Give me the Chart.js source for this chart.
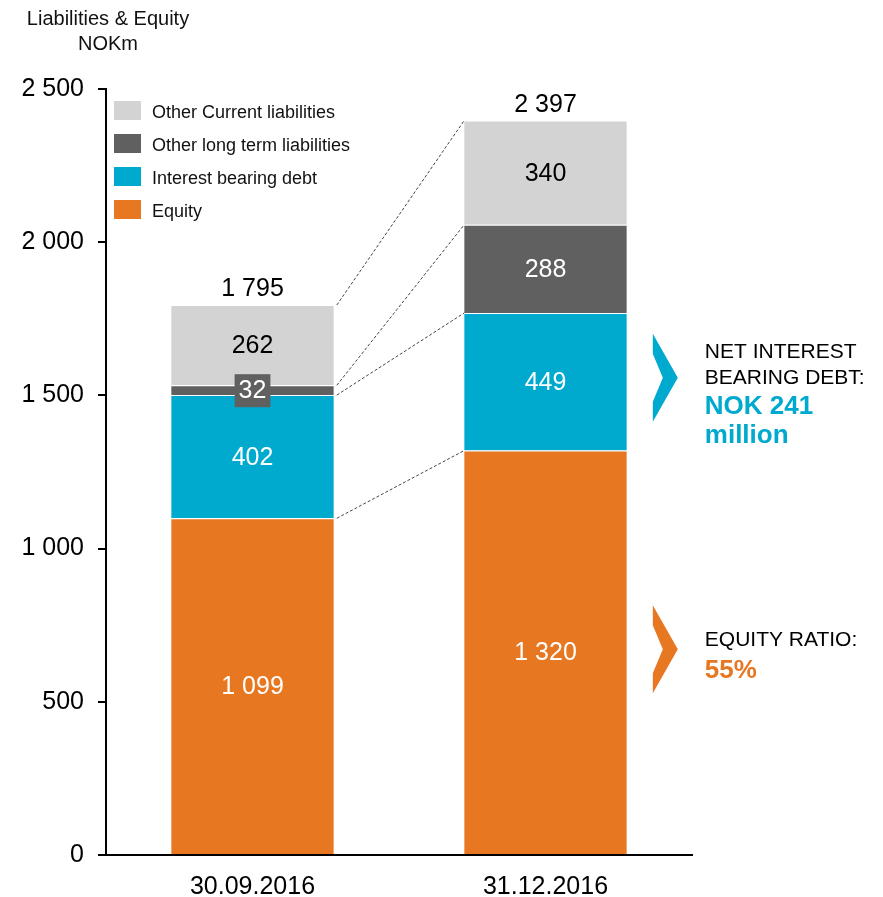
<!DOCTYPE html>
<html>
<head>
<meta charset="utf-8">
<script src="https://cdn.jsdelivr.net/npm/chart.js@4.4.0/dist/chart.umd.min.js"></script>
<style>
  body { margin: 0; background: #fff; }
  #wrap { width: 883px; height: 897px; }
</style>
</head>
<body>
<div id="wrap"><canvas id="chart" width="883" height="897"></canvas></div>
<script>
const categories = ['30.09.2016', '31.12.2016']
const equity = [1099, 1320]
const interestDebt = [402, 449]
const otherLongTerm = [32, 288]
const otherCurrent = [262, 340]
const yTicks = [0, 500, 1000, 1500, 2000, 2500]

const FONT = '"Liberation Sans", Arial, sans-serif'
const COLORS = { equity: '#e87722', debt: '#00a9ce', longTerm: '#606060', current: '#d3d3d3' }

const fmt = v => String(v).replace(/\B(?=(\d{3})+(?!\d))/g, ' ')

const seg = (label, data, color, labelColor) => ({
    label, data,
    backgroundColor: color,
    borderColor: '#ffffff',
    borderWidth: { top: 1, bottom: 0, left: 0, right: 0 },
    borderSkipped: false,
    labelColor
})

// labels, totals, connectors, legend and side notes
const extras = {
    id: 'extras',
    afterDatasetsDraw(chart) {
        const ctx = chart.ctx
        const sets = chart.data.datasets
        ctx.save()

        // dashed connectors between the bars
        ctx.strokeStyle = '#444'
        ctx.lineWidth = 1
        ctx.setLineDash([3, 2])
        sets.forEach((ds, i) => {
            const b1 = chart.getDatasetMeta(i).data[0]
            const b2 = chart.getDatasetMeta(i).data[1]
            ctx.beginPath()
            ctx.moveTo(b1.x + b1.width / 2 + 3, b1.y)
            ctx.lineTo(b2.x - b2.width / 2, b2.y)
            ctx.stroke()
        })
        ctx.setLineDash([])

        // values in the segments
        ctx.textAlign = 'center'
        ctx.textBaseline = 'middle'
        ctx.font = '25px ' + FONT
        sets.forEach((ds, i) => {
            chart.getDatasetMeta(i).data.forEach((bar, j) => {
                const cy = (bar.y + bar.base) / 2
                const txt = fmt(ds.data[j])
                if (bar.base - bar.y < 24) {
                    const w = ctx.measureText(txt).width + 8
                    ctx.fillStyle = COLORS.longTerm
                    ctx.fillRect(bar.x - w / 2, cy - 16, w, 33)
                }
                ctx.fillStyle = ds.labelColor
                ctx.fillText(txt, bar.x, cy + 1)
            })
        })

        // totals
        ctx.fillStyle = '#000'
        ctx.textBaseline = 'alphabetic'
        categories.forEach((c, j) => {
            const total = sets.reduce((s, ds) => s + ds.data[j], 0)
            const top = chart.getDatasetMeta(sets.length - 1).data[j]
            ctx.fillText(fmt(total), top.x, top.y - 9)
        })

        // legend (top-down order)
        ctx.textAlign = 'left'
        ctx.font = '18px ' + FONT
        sets.slice().reverse().forEach((ds, k) => {
            const y = 101 + k * 33
            ctx.fillStyle = ds.backgroundColor
            ctx.fillRect(114, y, 27, 19)
            ctx.fillStyle = '#111'
            ctx.fillText(ds.label, 152, y + 17)
        })

        // title
        ctx.textAlign = 'center'
        ctx.font = '20px ' + FONT
        ctx.fillText('Liabilities & Equity', 108, 25)
        ctx.fillText('NOKm', 108, 50)

        // side notes with chevrons
        const bar2 = chart.getDatasetMeta(1).data[1]
        const x0 = bar2.x + bar2.width / 2 + 26
        const chevron = (cy, color) => {
            ctx.fillStyle = color
            ctx.beginPath()
            ctx.moveTo(x0, cy - 44)
            ctx.lineTo(x0 + 25, cy)
            ctx.lineTo(x0, cy + 44)
            ctx.lineTo(x0, cy + 24)
            ctx.lineTo(x0 + 10, cy)
            ctx.lineTo(x0, cy - 24)
            ctx.closePath()
            ctx.fill()
        }
        const mid = (i, j) => {
            const b = chart.getDatasetMeta(i).data[j]
            return (b.y + b.base) / 2
        }
        const tx = x0 + 52
        ctx.textAlign = 'left'

        const cDebt = mid(1, 1) - 4
        chevron(cDebt, COLORS.debt)
        ctx.fillStyle = '#000'
        ctx.font = '21px ' + FONT
        ctx.fillText('NET INTEREST', tx, cDebt - 20)
        ctx.fillText('BEARING DEBT:', tx, cDebt + 6)
        ctx.fillStyle = COLORS.debt
        ctx.font = 'bold 26px ' + FONT
        ctx.fillText('NOK 241', tx, cDebt + 36)
        ctx.fillText('million', tx, cDebt + 65)

        const cEq = mid(0, 1) - 3
        chevron(cEq, COLORS.equity)
        ctx.fillStyle = '#000'
        ctx.font = '21px ' + FONT
        ctx.fillText('EQUITY RATIO:', tx, cEq - 3)
        ctx.fillStyle = COLORS.equity
        ctx.font = 'bold 26px ' + FONT
        ctx.fillText('55%', tx, cEq + 29)

        ctx.restore()
    }
}

new Chart(document.getElementById('chart'), {
    type: 'bar',
    data: {
        labels: categories,
        datasets: [
            seg('Equity', equity, COLORS.equity, '#ffffff'),
            seg('Interest bearing debt', interestDebt, COLORS.debt, '#ffffff'),
            seg('Other long term liabilities', otherLongTerm, COLORS.longTerm, '#ffffff'),
            seg('Other Current liabilities', otherCurrent, COLORS.current, '#000000')
        ]
    },
    options: {
        responsive: false,
        animation: false,
        barPercentage: 0.555,
        categoryPercentage: 1,
        layout: { padding: { top: 89, right: 191, left: 0, bottom: 0 } },
        plugins: {
            legend: { display: false },
            tooltip: { enabled: false }
        },
        scales: {
            x: {
                stacked: true,
                grid: { display: false },
                border: { color: '#000', width: 2 },
                ticks: { color: '#000', font: { family: FONT, size: 25 }, padding: 9 },
                afterFit(scale) { scale.height = 42 }
            },
            y: {
                stacked: true,
                min: 0,
                max: 2500,
                afterBuildTicks(scale) { scale.ticks = yTicks.map(v => ({ value: v })) },
                grid: { drawOnChartArea: false, drawTicks: true, tickLength: 8, color: '#000', lineWidth: 2 },
                border: { color: '#000', width: 2 },
                ticks: { color: '#000', font: { family: FONT, size: 25 }, padding: 14, callback: v => fmt(v) },
                afterFit(scale) { scale.width = 106 }
            }
        }
    },
    plugins: [extras]
})
</script>
</body>
</html>
